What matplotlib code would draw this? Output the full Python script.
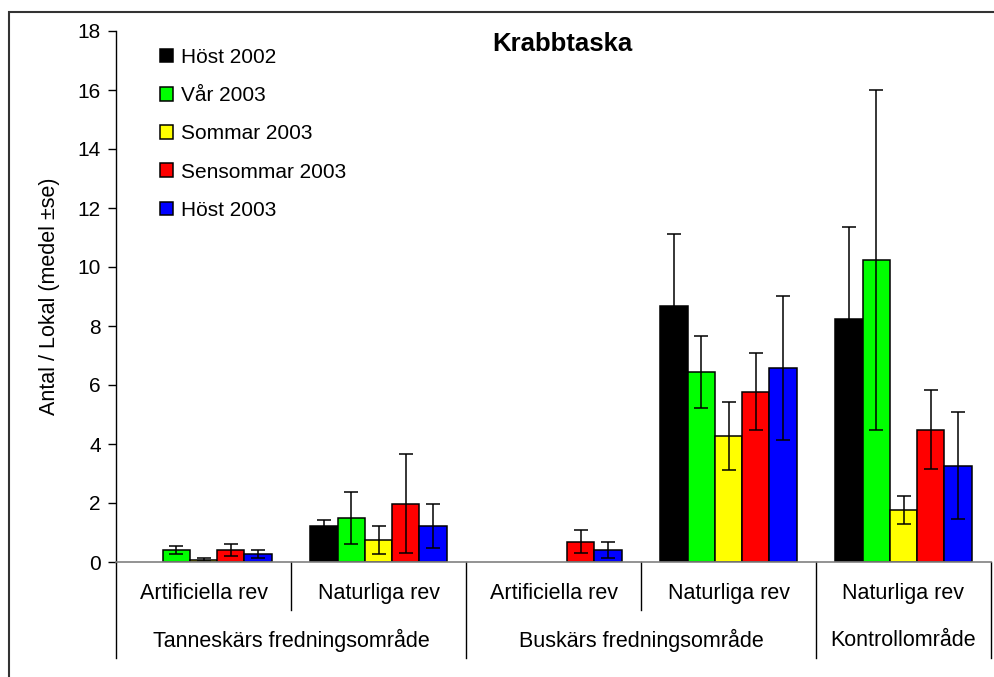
import numpy as np
import matplotlib
matplotlib.use("Agg")
import matplotlib.pyplot as plt
from matplotlib.patches import Rectangle
import matplotlib.transforms as mtransforms

plt.rcParams['font.family'] = ['Liberation Sans', 'DejaVu Sans']

nan = np.nan

# data
sub_labels = ["Artificiella rev", "Naturliga rev", "Artificiella rev", "Naturliga rev", "Naturliga rev"]
group_labels = ["Tanneskärs fredningsområde", "Buskärs fredningsområde", "Kontrollområde"]
group_spans = [(0, 2), (2, 4), (4, 5)]

seasons = ["Höst 2002", "Vår 2003", "Sommar 2003", "Sensommar 2003", "Höst 2003"]
colors = ["#000000", "#00ff00", "#ffff00", "#ff0000", "#0000ff"]

host2002 = [nan, 1.23, nan, 8.69, 8.23]
var2003 = [0.41, 1.50, nan, 6.45, 10.25]
sommar2003 = [0.08, 0.75, nan, 4.28, 1.76]
sensommar2003 = [0.41, 1.97, 0.68, 5.77, 4.49]
host2003 = [0.28, 1.23, 0.41, 6.59, 3.27]

host2002_se = [nan, 0.20, nan, 2.44, 3.11]
var2003_se = [0.14, 0.88, nan, 1.22, 5.76]
sommar2003_se = [0.06, 0.48, nan, 1.16, 0.47]
sensommar2003_se = [0.21, 1.68, 0.39, 1.30, 1.33]
host2003_se = [0.14, 0.74, 0.26, 2.44, 1.80]

means = [host2002, var2003, sommar2003, sensommar2003, host2003]
errs = [host2002_se, var2003_se, sommar2003_se, sensommar2003_se, host2003_se]

W, H = 994, 677
fig = plt.figure(figsize=(W / 100, H / 100), dpi=100)
ax = fig.add_axes([116 / W, (H - 562) / H, (991 - 116) / W, (562 - 31) / H])

centers = np.arange(len(sub_labels)) + 0.5
bw = 0.156
handles = []
for i, (m, e, c) in enumerate(zip(means, errs, colors)):
    x = centers + (i - 2) * bw
    b = ax.bar(x, m, width=bw, color=c, edgecolor="black", linewidth=1.1, zorder=2, label=seasons[i])
    handles.append(b)
    ax.errorbar(x, m, yerr=e, fmt="none", ecolor="black", elinewidth=1.1,
                capsize=5, capthick=1.1, zorder=3)

ax.set_xlim(0, 5)
ax.set_ylim(0, 18)
ax.set_yticks(np.arange(0, 19, 2))
ax.set_xticks([])
ax.tick_params(axis="y", direction="out", length=6, width=1, labelsize=15, pad=5)
for s in ["top", "right", "bottom"]:
    ax.spines[s].set_visible(False)
ax.spines["left"].set_linewidth(1)
ax.axhline(0, color="#808080", lw=1.2, zorder=4, clip_on=False)

# category dividers and labels under the axis
trans = mtransforms.blended_transform_factory(ax.transData, ax.transAxes)
for xv in [0, 2, 4, 5]:
    ax.plot([xv, xv], [0, -0.181], color="black", lw=1, transform=trans, clip_on=False)
for xv in [1, 3]:
    ax.plot([xv, xv], [0, -0.0904], color="black", lw=1, transform=trans, clip_on=False)
for c, lab in zip(centers, sub_labels):
    ax.text(c, -0.0584, lab, transform=trans, ha="center", va="center", fontsize=15.5)
for (a, b), lab in zip(group_spans, group_labels):
    ax.text((a + b) / 2, -0.147, lab, transform=trans, ha="center", va="center", fontsize=15.5)

fig.text(50 / W, 1 - 296 / H, "Antal / Lokal (medel ±se)", rotation=90,
         ha="center", va="center", fontsize=15.5)
fig.text(562 / W, 1 - 44 / H, "Krabbtaska", ha="center", va="center",
         fontsize=18.5, fontweight="bold")

ax.legend(handles=handles, loc="upper left", bbox_to_anchor=(160 / W, 1 - 48 / H),
          bbox_transform=fig.transFigure, frameon=False, fontsize=15,
          handlelength=0.62, handleheight=0.62, handletextpad=0.4,
          labelspacing=0.92, borderpad=0, borderaxespad=0)

fig.add_artist(Rectangle((8.5 / W, -0.1), 1.0, 1 - 11.5 / H + 0.1, transform=fig.transFigure,
                         fill=False, edgecolor="#333333", lw=1.5))

fig.savefig("out.png", dpi=100)
